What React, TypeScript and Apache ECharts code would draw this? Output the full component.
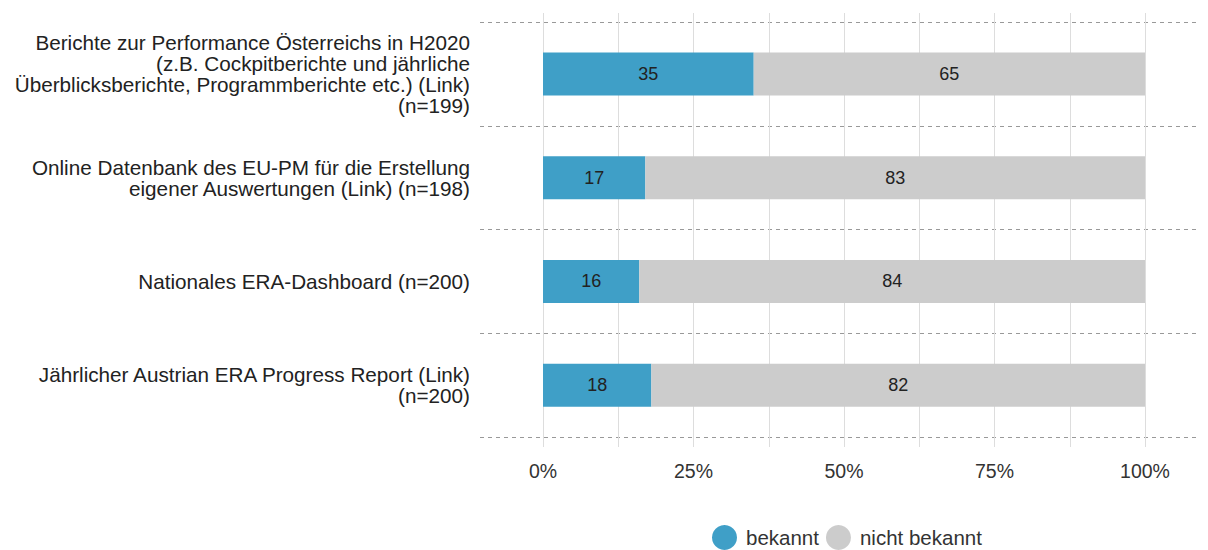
import React, { useEffect, useRef } from "react";
import * as echarts from "echarts";

const categories = [
  "Berichte zur Performance Österreichs in H2020\n(z.B. Cockpitberichte und jährliche\nÜberblicksberichte, Programmberichte etc.) (Link)\n(n=199)",
  "Online Datenbank des EU-PM für die Erstellung\neigener Auswertungen (Link) (n=198)",
  "Nationales ERA-Dashboard (n=200)",
  "Jährlicher Austrian ERA Progress Report (Link)\n(n=200)",
];
const bekannt = [35, 17, 16, 18];
const nichtBekannt = [65, 83, 84, 82];
const seriesNames = ["bekannt", "nicht bekannt"];

export default function App() {
  const ref = useRef<HTMLDivElement>(null);
  useEffect(() => {
    document.body.style.margin = "0";
    const chart = echarts.init(ref.current!, null, { renderer: "svg" });
    const font = "'Liberation Sans', Arial, sans-serif";
    chart.setOption({
      animation: false,
      textStyle: { fontFamily: font },
      grid: [
        { left: 543, right: 63, top: 13, bottom: 103 },
        { left: 480, right: 8, top: 22, bottom: 113 },
        { left: 543, right: 63, top: 22, bottom: 113 },
      ],
      xAxis: [
        {
          gridIndex: 0,
          type: "value",
          min: 0,
          max: 100,
          interval: 12.5,
          axisLine: { show: false },
          axisTick: { show: false },
          splitLine: { show: true, lineStyle: { color: "#dddddd", width: 1 } },
          axisLabel: {
            margin: 14,
            fontSize: 19.5,
            color: "#333",
            fontFamily: font,
            formatter: (v: number) => (v % 25 === 0 ? v + "%" : ""),
          },
        },
        { gridIndex: 1, type: "value", show: false, min: 0, max: 100 },
        { gridIndex: 2, type: "value", show: false, min: 0, max: 100 },
      ],
      yAxis: [
        { gridIndex: 0, type: "category", data: categories, show: false },
        {
          gridIndex: 1,
          type: "category",
          data: categories,
          inverse: true,
          axisLine: { show: false },
          axisTick: { show: false },
          axisLabel: { show: false },
          splitLine: { show: true, lineStyle: { color: "#999", type: [4, 4], width: 1 } },
        },
        {
          gridIndex: 2,
          type: "category",
          data: categories,
          inverse: true,
          axisLine: { show: false },
          axisTick: { show: false },
          splitLine: { show: false },
          axisLabel: {
            margin: 73,
            fontSize: 20.7,
            lineHeight: 21,
            color: "#222",
            align: "right",
            fontFamily: font,
          },
        },
      ],
      legend: {
        data: seriesNames,
        left: 707,
        top: 520,
        icon: "circle",
        itemWidth: 33,
        itemHeight: 25,
        itemGap: 7,
        textStyle: { fontSize: 20.5, color: "#333", fontFamily: font },
      },
      series: [
        {
          name: seriesNames[0],
          type: "bar",
          stack: "total",
          xAxisIndex: 2,
          yAxisIndex: 2,
          barWidth: 43,
          data: bekannt,
          itemStyle: { color: "#3f9fc7" },
          label: { show: true, position: "inside", color: "#222", fontSize: 18, fontFamily: font },
        },
        {
          name: seriesNames[1],
          type: "bar",
          stack: "total",
          xAxisIndex: 2,
          yAxisIndex: 2,
          barWidth: 43,
          data: nichtBekannt,
          itemStyle: { color: "#cccccc" },
          label: { show: true, position: "inside", color: "#222", fontSize: 18, fontFamily: font },
        },
      ],
    });
    return () => chart.dispose();
  }, []);
  return <div ref={ref} style={{ width: 1208, height: 550 }} />;
}
